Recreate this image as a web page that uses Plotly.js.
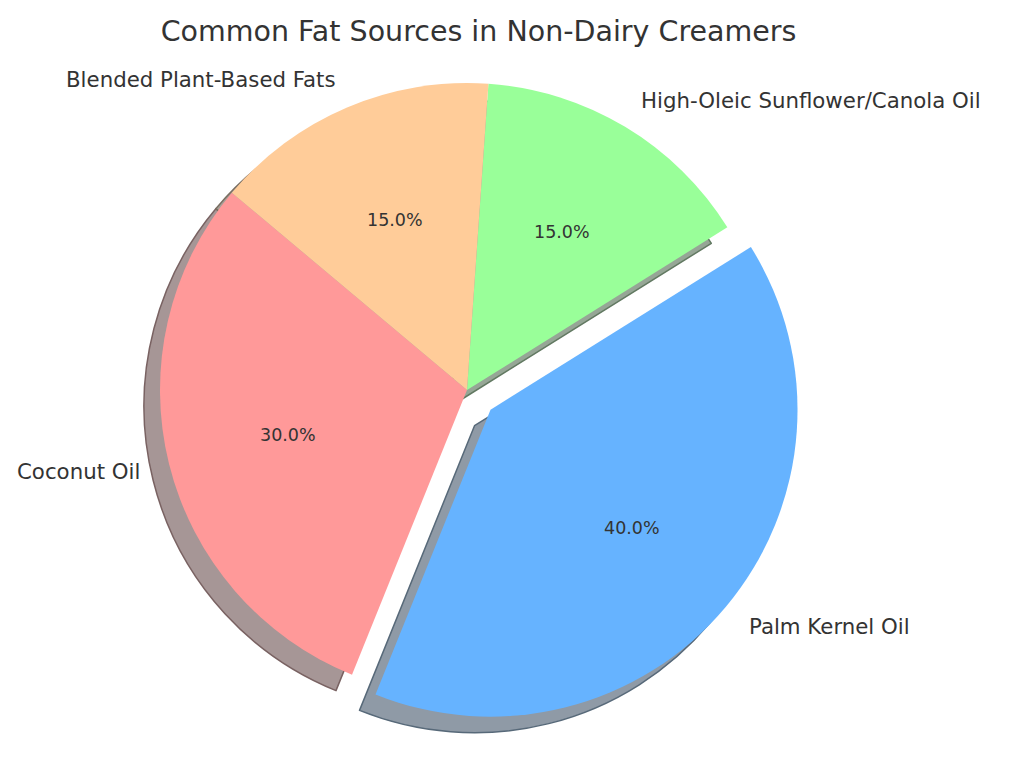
<!DOCTYPE html>
<html>
<head>
<meta charset="utf-8">
<script src="https://cdn.plot.ly/plotly-3.0.1.min.js"></script>
<style>
  body { margin: 0; background: #fff; }
  #chart { width: 1024px; height: 768px; }
</style>
</head>
<body>
<div id="chart"></div>
<script>
const labels = ['Coconut Oil', 'Palm Kernel Oil', 'High-Oleic Sunflower/Canola Oil', 'Blended Plant-Based Fats'];
const shares = [30, 40, 15, 15];
const explode = [0, 0.1, 0, 0];
const colors = ['#ff9999', '#66b3ff', '#99ff99', '#ffcc99'];
const shadowFill = ['#a69696', '#8f9aa6', '#96a696', '#a69e96'];
const shadowEdge = ['#796262', '#576979', '#627962', '#796e62'];
const startAngle = 140;   // degrees, counterclockwise from 3 o'clock

// pie geometry in pixels
const W = 1024, H = 768;
const cx = 467, cy = 390, R = 307;
const maxPull = Math.max(...explode);
const half = R * (1 + maxPull);
const shadowDx = -16, shadowDy = 16;

const total = shares.reduce((a, b) => a + b, 0);
// plotly's counterclockwise pies end the first slice at `rotation`
const rotation = 90 - startAngle - shares[0] / total * 360;

function domainFor(dx, dy) {
  return {
    x: [(cx + dx - half) / W, (cx + dx + half) / W],
    y: [(H - cy - dy - half) / H, (H - cy - dy + half) / H]
  };
}

const shadow = {
  type: 'pie',
  values: shares,
  labels: labels,
  sort: false,
  direction: 'counterclockwise',
  rotation: rotation,
  pull: explode,
  domain: domainFor(shadowDx, shadowDy),
  marker: { colors: shadowFill, line: { color: shadowEdge, width: 1.5 } },
  textinfo: 'none',
  hoverinfo: 'skip',
  showlegend: false
};

const pie = {
  type: 'pie',
  values: shares,
  labels: labels,
  sort: false,
  direction: 'counterclockwise',
  rotation: rotation,
  pull: explode,
  domain: domainFor(0, 0),
  marker: { colors: colors, line: { width: 0 } },
  textinfo: 'none',
  hoverinfo: 'label+percent',
  showlegend: false
};

// matplotlib-style label placement: labels at 1.1 r, percentages at 0.6 r
const annotations = [];
let theta = startAngle;
for (let i = 0; i < shares.length; i++) {
  const span = shares[i] / total * 360;
  const mid = (theta + span / 2) * Math.PI / 180;
  theta += span;
  const ox = cx + explode[i] * R * Math.cos(mid);
  const oy = cy - explode[i] * R * Math.sin(mid);
  const lx = ox + 1.1 * R * Math.cos(mid);
  const ly = oy - 1.1 * R * Math.sin(mid);
  const px = ox + 0.6 * R * Math.cos(mid);
  const py = oy - 0.6 * R * Math.sin(mid);
  const onRight = Math.cos(mid) > 0;
  annotations.push({
    xref: 'paper', yref: 'paper', x: lx / W, y: 1 - ly / H,
    text: labels[i], showarrow: false,
    xanchor: onRight ? 'left' : 'right', yanchor: 'middle',
    xshift: onRight ? -2 : 3,
    font: { family: 'DejaVu Sans', size: 21.3, color: '#333333' }
  });
  annotations.push({
    xref: 'paper', yref: 'paper', x: px / W, y: 1 - py / H,
    text: (shares[i] / total * 100).toFixed(1) + '%', showarrow: false,
    xanchor: 'center', yanchor: 'middle',
    font: { family: 'DejaVu Sans', size: 17.5, color: '#333333' }
  });
}

const layout = {
  width: W,
  height: H,
  margin: { l: 0, r: 0, t: 0, b: 0 },
  paper_bgcolor: '#ffffff',
  plot_bgcolor: '#ffffff',
  title: {
    text: 'Common Fat Sources in Non-Dairy Creamers',
    font: { family: 'DejaVu Sans', size: 28.5, color: '#333333' },
    xref: 'paper', x: 478.5 / W, xanchor: 'center',
    yref: 'container', y: 1 - 31 / H, yanchor: 'middle'
  },
  annotations: annotations,
  showlegend: false
};

Plotly.newPlot('chart', [shadow, pie], layout, { displayModeBar: false, staticPlot: true });
</script>
</body>
</html>
